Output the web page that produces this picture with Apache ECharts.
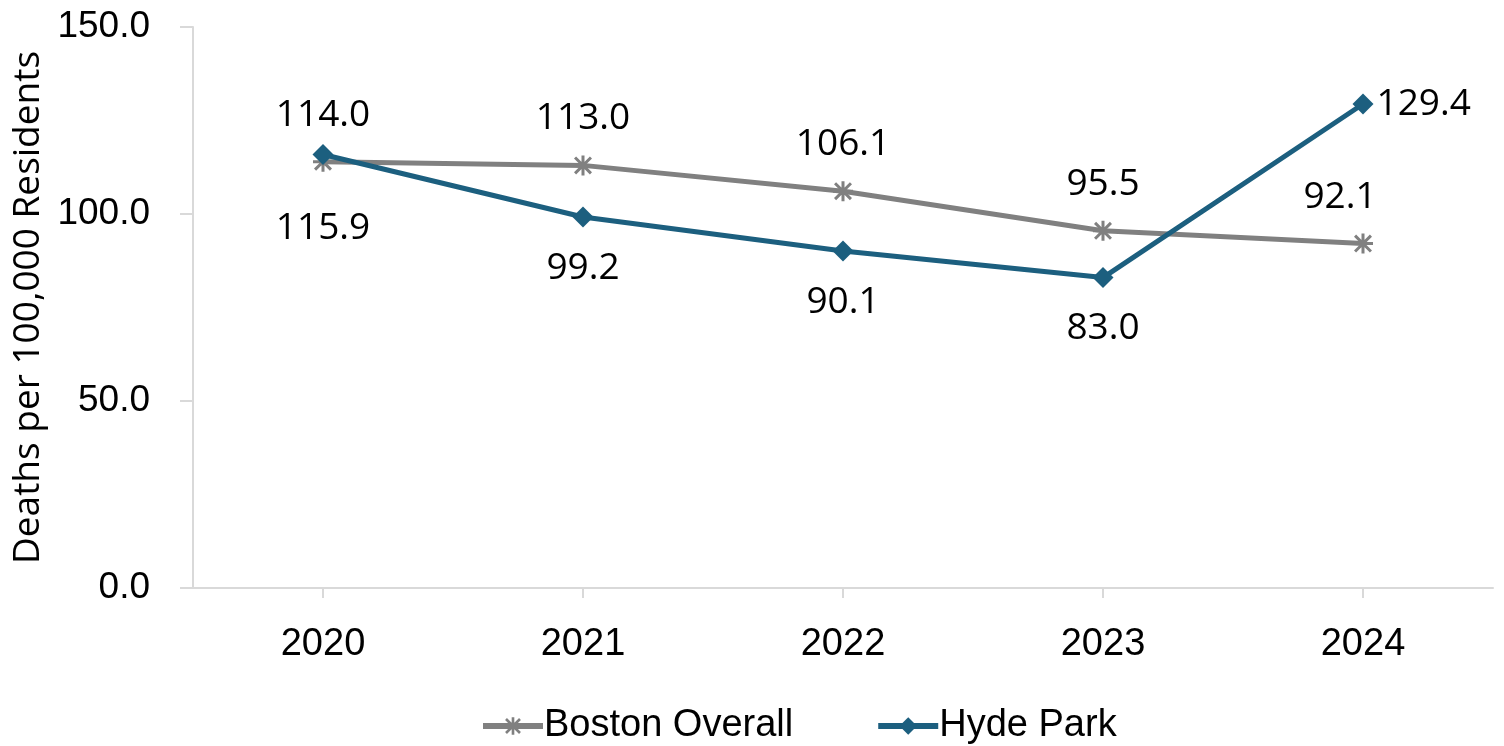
<!DOCTYPE html>
<html>
<head>
<meta charset="utf-8">
<script src="https://cdn.jsdelivr.net/npm/echarts@6/dist/echarts.min.js"></script>
<style>html,body{margin:0;padding:0;background:#fff}#c{width:1504px;height:746px}</style>
</head>
<body>
<div id="c"></div>
<script>
const categories = ['2020', '2021', '2022', '2023', '2024'];
const bostonOverall = [114.0, 113.0, 106.1, 95.5, 92.1];
const hydePark = [115.9, 99.2, 90.1, 83.0, 129.4];
const yTicks = [0, 50, 100, 150];

const asterisk = 'path://M8.5 0L11.5 0L11.5 20L8.5 20Z M0 8.5L20 8.5L20 11.5L0 11.5Z M1 3.1L3.1 1L19 16.9L16.9 19Z M16.9 1L19 3.1L3.1 19L1 16.9Z';
const labelFont = { fontFamily: 'Open Sans', fontSize: 37, color: '#000' };

const chart = echarts.init(document.getElementById('c'), null, { renderer: 'canvas' });
chart.setOption({
  animation: false,
  backgroundColor: '#fff',
  grid: { left: 193, right: 11, top: 27, bottom: 158, containLabel: false },
  legend: {
    bottom: -4, left: 475,
    itemWidth: 60, itemHeight: 22, itemGap: 82,
    lineStyle: { width: 6 },
    textStyle: { fontFamily: '"Liberation Sans Narrow", "Liberation Sans", sans-serif', fontSize: 38, color: '#000', padding: [0,0,0,-4] },
    data: ['Boston Overall', 'Hyde Park']
  },
  xAxis: {
    type: 'category', data: categories, boundaryGap: true,
    axisLine: { lineStyle: { color: '#D9D9D9', width: 2 } },
    axisTick: { show: true, alignWithLabel: true, length: 10, lineStyle: { color: '#D9D9D9', width: 2 } },
    axisLabel: { fontFamily: 'Liberation Sans', fontSize: 38, color: '#000', margin: 38 }
  },
  yAxis: {
    type: 'value', min: yTicks[0], max: yTicks[yTicks.length - 1], interval: 50,
    name: 'Deaths per 100,000 Residents', nameLocation: 'middle', nameGap: 136, nameRotate: 90,
    nameTextStyle: { fontFamily: 'Open Sans', fontSize: 37, color: '#000' },
    splitLine: { show: false },
    axisLine: { show: true, lineStyle: { color: '#D9D9D9', width: 2 } },
    axisTick: { show: true, length: 13, lineStyle: { color: '#D9D9D9', width: 2 } },
    axisLabel: { fontFamily: 'Liberation Sans', fontSize: 37, color: '#000', margin: 43, formatter: v => v.toFixed(1) }
  },
  series: [
    {
      name: 'Boston Overall', type: 'line',
      data: bostonOverall.map((v, i) => i === 4 ? { value: v, label: { offset: [-23, 0] } } : v),
      symbol: asterisk, symbolSize: 20,
      lineStyle: { color: '#808080', width: 5 },
      itemStyle: { color: '#808080' },
      label: { show: true, position: 'top', distance: 18, formatter: p => p.value.toFixed(1), ...labelFont },
      z: 2
    },
    {
      name: 'Hyde Park', type: 'line',
      data: hydePark.map((v, i) => {
        if (i === 0) return { value: v, label: { distance: 45 } };
        if (i === 4) return { value: v, label: { position: 'right', distance: 3 } };
        return v;
      }),
      symbol: 'diamond', symbolSize: 21,
      lineStyle: { color: '#1C5F7F', width: 5 },
      itemStyle: { color: '#1C5F7F' },
      label: { show: true, position: 'bottom', distance: 22, formatter: p => p.value.toFixed(1), ...labelFont },
      z: 3
    }
  ]
});
</script>
</body>
</html>
